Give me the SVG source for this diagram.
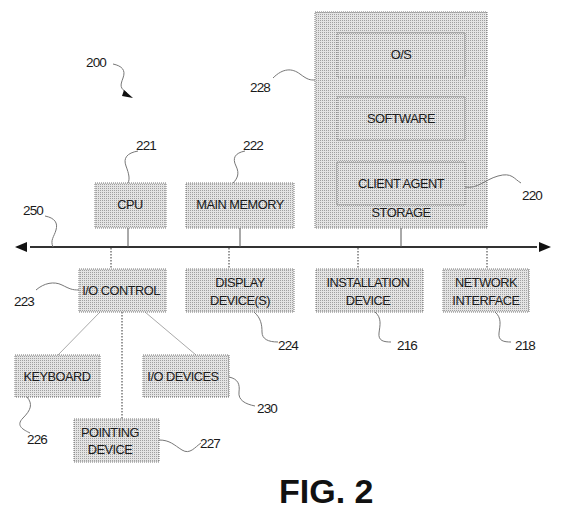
<svg xmlns="http://www.w3.org/2000/svg" width="562" height="511" viewBox="0 0 562 511">
<style>
.box{fill:url(#dots);stroke:#777;stroke-width:1;stroke-dasharray:1 1}
.t{font-family:"Liberation Sans",Arial,sans-serif;font-size:12.8px;letter-spacing:-0.5px;fill:#1a1a1a;text-anchor:middle}
.n{font-family:"Liberation Sans",Arial,sans-serif;font-size:13.5px;letter-spacing:-0.9px;fill:#1a1a1a;text-anchor:middle}
.sq{fill:none;stroke:#777;stroke-width:1}
.solid{stroke:#555;stroke-width:1;fill:none}
.dot{stroke:#333;stroke-width:1;stroke-dasharray:1.5 1.5;fill:none}
.lt{stroke:#aaa;stroke-width:1;fill:none}
</style>
<defs>
<pattern id="dots" width="2" height="2" patternUnits="userSpaceOnUse">
<rect width="2" height="2" fill="#e4e4e4"/>
<rect width="1" height="1" fill="#a0a0a0"/>
</pattern>
</defs>
<rect width="562" height="511" fill="#fff"/>

<g id="connectors">
<line x1="30" y1="247" x2="537" y2="247" stroke="#333" stroke-width="2"/>
<path d="M15,247 L27,242 L27,252 Z" fill="#111"/>
<path d="M551,247 L539,242 L539,252 Z" fill="#111"/>
<line class="solid" x1="128" y1="228" x2="128" y2="247"/>
<line class="solid" x1="240" y1="228" x2="240" y2="247"/>
<line class="solid" x1="401" y1="228" x2="401" y2="247"/>
<line class="dot" x1="111" y1="248" x2="111" y2="269"/>
<line class="dot" x1="229" y1="248" x2="229" y2="269"/>
<line class="dot" x1="358" y1="248" x2="358" y2="269"/>
<line class="dot" x1="487" y1="248" x2="487" y2="269"/>
<line class="lt" x1="100" y1="312" x2="58" y2="355"/>
<line class="dot" x1="122" y1="312" x2="122" y2="419"/>
<line class="lt" x1="145" y1="312" x2="196" y2="355"/>
</g>

<g id="storage">
<rect class="box" x="315" y="12" width="172" height="216"/>
<text class="t" x="401" y="217">STORAGE</text>
</g>
<g id="os">
<rect class="box" x="337" y="33" width="128" height="44"/>
<text class="t" x="401" y="59">O/S</text>
</g>
<g id="software">
<rect class="box" x="337" y="97" width="128" height="43"/>
<text class="t" x="401" y="123">SOFTWARE</text>
</g>
<g id="client-agent">
<rect class="box" x="337" y="162" width="128" height="43"/>
<text class="t" x="401" y="188">CLIENT AGENT</text>
</g>
<g id="cpu">
<rect class="box" x="95" y="183" width="71" height="45"/>
<text class="t" x="130" y="209">CPU</text>
</g>
<g id="main-memory">
<rect class="box" x="186" y="183" width="108" height="45"/>
<text class="t" x="240" y="209">MAIN MEMORY</text>
</g>
<g id="io-control">
<rect class="box" x="79" y="269" width="87" height="43"/>
<text class="t" x="121" y="295">I/O CONTROL</text>
</g>
<g id="display">
<rect class="box" x="186" y="269" width="108" height="43"/>
<text class="t" x="240" y="287">DISPLAY</text>
<text class="t" x="240" y="305">DEVICE(S)</text>
</g>
<g id="installation">
<rect class="box" x="316" y="269" width="107" height="43"/>
<text class="t" x="368" y="287">INSTALLATION</text>
<text class="t" x="368" y="305">DEVICE</text>
</g>
<g id="network">
<rect class="box" x="443" y="269" width="86" height="43"/>
<text class="t" x="486" y="287">NETWORK</text>
<text class="t" x="486" y="305">INTERFACE</text>
</g>
<g id="keyboard">
<rect class="box" x="15" y="355" width="85" height="42"/>
<text class="t" x="57" y="381">KEYBOARD</text>
</g>
<g id="io-devices">
<rect class="box" x="143" y="355" width="86" height="42"/>
<text class="t" x="183" y="381">I/O DEVICES</text>
</g>
<g id="pointing">
<rect class="box" x="74" y="419" width="85" height="43"/>
<text class="t" x="110" y="437">POINTING</text>
<text class="t" x="110" y="454">DEVICE</text>
</g>

<g id="labels">
<text class="n" x="96" y="67">200</text>
<path class="sq" d="M113,64 C122,66 126,70 123,78 S 120,88 127,93"/>
<path d="M124,90 L133,98 L122,96 Z" fill="#111"/>
<text class="n" x="260" y="92">228</text>
<path class="sq" d="M273,78 C283,68 292,68 300,74 S 310,80 315,80"/>
<text class="n" x="146" y="150">221</text>
<path class="sq" d="M138,151 C127,153 123,158 126,166 S 130,179 128,183"/>
<text class="n" x="253" y="150">222</text>
<path class="sq" d="M245,151 C235,153 232,158 236,166 S 237,179 233,183"/>
<text class="n" x="33" y="215">250</text>
<path class="sq" d="M45,216 C55,218 58,223 56,230 S 50,240 53,247"/>
<text class="n" x="532" y="200">220</text>
<path class="sq" d="M465,187 C478,189 484,180 498,176 S 514,179 521,183"/>
<text class="n" x="24" y="306">223</text>
<path class="sq" d="M36,290 C44,283 54,281 62,285 S 72,290 79,290"/>
<text class="n" x="288" y="350">224</text>
<path class="sq" d="M254,312 C261,318 262,325 262,332 S 268,342 278,342"/>
<text class="n" x="407" y="350">216</text>
<path class="sq" d="M375,312 C382,318 380,325 379,333 S 384,342 391,342"/>
<text class="n" x="525" y="350">218</text>
<path class="sq" d="M495,312 C502,318 500,325 499,333 S 504,342 511,342"/>
<text class="n" x="37" y="444">226</text>
<path class="sq" d="M27,397 C33,404 31,410 23,418 S 24,430 30,433"/>
<text class="n" x="210" y="448">227</text>
<path class="sq" d="M159,440 C170,440 174,445 182,450 S 195,447 201,443"/>
<text class="n" x="267" y="413">230</text>
<path class="sq" d="M229,377 C238,379 240,384 239,392 S 245,404 255,406"/>
</g>

<text x="279" y="503" font-family="'Liberation Sans',Arial,sans-serif" font-size="34" font-weight="bold" fill="#111">FIG. 2</text>
</svg>
